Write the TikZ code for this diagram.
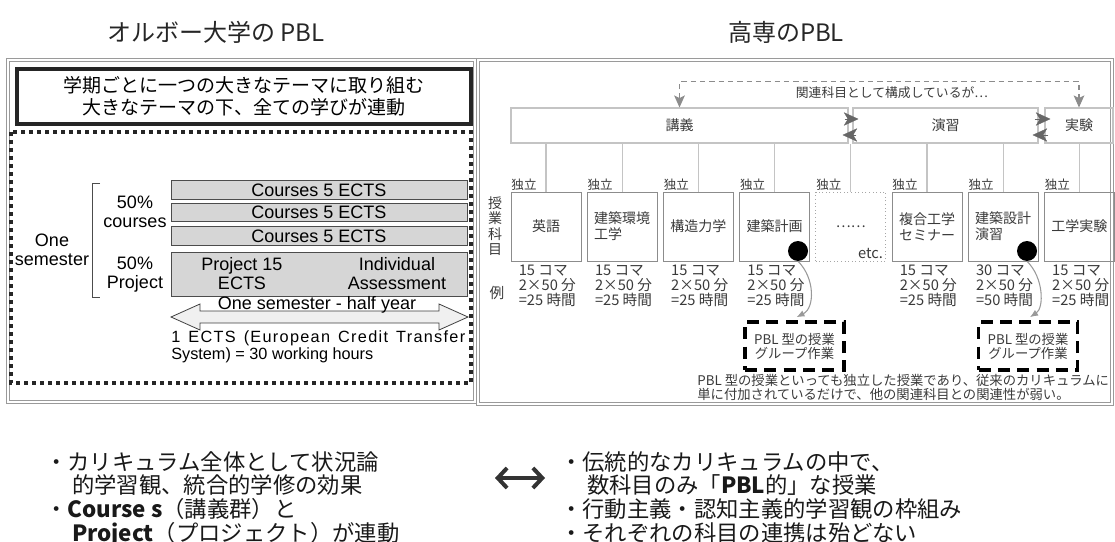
\documentclass[tikz,border=0pt]{standalone}
\usepackage{fontspec}
\setmainfont{Liberation Sans}
\newfontfamily\jp{Noto Sans CJK JP}
\usetikzlibrary{arrows.meta,calc}

\definecolor{framegray}{HTML}{9A9A9A}
\definecolor{bargray}{HTML}{D6D6D6}
\definecolor{ink}{HTML}{3A3A3A}
\definecolor{thinline}{HTML}{C4C4C4}

\begin{document}
\begin{tikzpicture}[x=0.75pt, y=-0.75pt, >=latex,
	panel/.style={draw=framegray, line width=0.6pt, double=white, double distance=1.2pt},
	ttl/.style={inner sep=0pt, text=black!85, font=\jp\fontsize{18}{20}\selectfont},
	tbox/.style={draw=black!85, line width=3pt, minimum width=341pt, minimum height=41pt,
		inner sep=0pt, align=center, font=\jp\fontsize{14.25}{16.5}\selectfont},
	dotframe/.style={draw=black!85, line width=3pt, dash pattern=on 3pt off 3pt},
	bar/.style={draw=black!70, fill=bargray, line width=0.6pt, minimum width=222pt,
		minimum height=13.9pt, inner sep=0pt, font=\fontsize{13.5}{14.25}\selectfont},
	lbl/.style={align=center, inner sep=0pt, font=\fontsize{13.5}{14.25}\selectfont},
	halfyear/.style={draw=black!75, fill=black!6, line width=0.6pt},
	topbox/.style={draw=thinline, line width=0.8pt, minimum height=26.25pt, inner sep=0pt,
		text=ink, font=\jp\fontsize{10.5}{12}\selectfont},
	subj/.style={draw=black!45, line width=0.7pt, minimum width=52.5pt, minimum height=51.75pt,
		inner sep=0pt, align=left, text=ink, font=\jp\fontsize{10.5}{12}\selectfont},
	small/.style={inner sep=0.5pt, text=ink, font=\jp\fontsize{9.4}{10}\selectfont},
	colt/.style={align=left, inner sep=0pt, text=ink, font=\jp\fontsize{11}{11.25}\selectfont},
	stem/.style={draw=thinline, line width=0.8pt},
	dashlink/.style={draw=black!45, line width=0.8pt, dash pattern=on 4pt off 3pt,
		>={Stealth[length=9pt, width=8pt, inset=2pt]}},
	pairtip/.style={draw=black!60, line width=0.2pt, -{Stealth[length=11pt, width=10pt, inset=3pt]}},
	blob/.style={circle, fill=black, minimum size=15pt, inner sep=0pt},
	pblbox/.style={draw=black, line width=2.8pt, dash pattern=on 9pt off 5.5pt, minimum width=74.25pt,
		minimum height=36pt, inner sep=0pt, align=center, text=ink, font=\jp\fontsize{10}{10.5}\selectfont},
	curvelink/.style={draw=black!40, line width=0.8pt, -{Latex[length=6pt, width=5pt]}},
	btm/.style={align=left, inner sep=0pt, text=black!90, font=\jp\fontsize{16.75}{17.8}\selectfont},
	linkarrow/.style={draw=black!80, line width=3pt,
		{Straight Barb[length=7pt, width=15pt]}-{Straight Barb[length=7pt, width=15pt]}}]

	\useasboundingbox (0,0) rectangle (1115,542);

	\node[ttl] (ta) at (216,32) {オルボー大学の PBL};
	\node[ttl] (tb) at (786,32) {高専のPBL};

	\draw[panel] (8,60) rectangle (475,402);
	\draw[panel] (478,60) rectangle (1112,404);

	% Aalborg
	\node[tbox] (theme) at (244,96.5) {学期ごとに一つの大きなテーマに取り組む\\大きなテーマの下、全ての学びが連動};
	\draw[dotframe] (11,132) rectangle (471,383);

	\node[bar] (c1) at (319,190) {Courses 5 ECTS};
	\node[bar] (c2) at (319,212.5) {Courses 5 ECTS};
	\node[bar] (c3) at (319,236) {Courses 5 ECTS};
	\node[bar, minimum height=33pt] (proj) at (319,274) {};
	\node[lbl] (p15) at (242,274) {Project 15\\ECTS};
	\node[lbl] (ia) at (397,274) {Individual\\Assessment};

	\node[lbl] (sem) at (52,250) {One\\semester};
	\node[lbl] (pc) at (135,212) {50\%\\courses};
	\node[lbl] (pp) at (135,275) {50\%\\Project};
	\draw[black!70, line width=0.6pt] (100,183) -| (92,297) -- (100,297);

	\draw[halfyear] (171,317) -- (200,304) -- (200,311) -- (439,311) -- (439,304) -- (468,317)
		-- (439,330) -- (439,323) -- (200,323) -- (200,330) -- cycle;
	\node[lbl] (hy) at (317,305) {One semester - half year};
	\node[lbl, align=left, anchor=north west, font=\fontsize{12.2}{12.8}\selectfont] (ects) at (171,330)
		{\makebox[220.5pt][s]{\addfontfeature{LetterSpace=8}1 ECTS (European Credit Transfer}\\System) = 30 working hours};

	% Kosen
	\node[topbox, minimum width=252.75pt] (lec) at (679.5,125.5) {講義};
	\node[topbox, minimum width=138.75pt] (ex) at (945.5,125.5) {演習};
	\node[topbox, minimum width=51pt] (lab) at (1079,125.5) {実験};

	\draw[dashlink, <->] (lec.north) -- ++(0,-26) -| (lab.north);
	\node[small, anchor=west, font=\jp\fontsize{9.6}{10}\selectfont] (rel) at (795,93) {関連科目として構成しているが…};

	\draw[pairtip] ($(lec.east)+(-4,-6.5)$) -- ($(ex.west)+(6,-6.5)$);
	\draw[pairtip] ($(ex.west)+(4,9.5)$) -- ($(lec.east)+(-6,9.5)$);
	\draw[pairtip] ($(ex.east)+(-4,-6.5)$) -- ($(lab.west)+(6,-6.5)$);
	\draw[pairtip] ($(lab.west)+(4,9.5)$) -- ($(ex.east)+(-6,9.5)$);

	\foreach \i/\t in {1/英語, 2/{建築環境\\工学}, 3/構造力学, 4/建築計画,
		6/{複合工学\\セミナー}, 7/{建築設計\\演習}, 8/工学実験}
		\node[subj] (s\i) at ({546+(\i-1)*76.2},226.5) {\t};
	\node[subj, draw=black!35, dotted] (s5) at (850.8,226.5) {……};
	\node[colt, anchor=south east] (etc) at ($(s5.south east)+(-3,-3)$) {etc.};

	\foreach \i in {1,...,8} {
		\node[small, anchor=south west] (ind\i) at (s\i.north west) {独立};
		\draw[stem] (s\i.north) -- (s\i.north |- lec.south);
	}

	\foreach \i/\k/\h in {1/15/25, 2/15/25, 3/15/25, 4/15/25, 6/15/25, 7/30/50, 8/15/25}
		\node[colt, anchor=north west] (h\i) at ($(s\i.south west)+(8,3)$) {\k\ コマ\\2×50 分\\=\h\ 時間};

	\node[colt, align=center, font=\jp\fontsize{10.5}{11.6}\selectfont] (vt) at (495,226) {授\\業\\科\\目};
	\node[colt] (ex1) at (497,293) {例};

	\node[blob] (d1) at (798,251) {};
	\node[blob] (d2) at (1027,251) {};
	\node[pblbox] (p1) at (794.5,346) {PBL 型の授業\\グループ作業};
	\node[pblbox] (p2) at (1028,346) {PBL 型の授業\\グループ作業};
	\draw[curvelink] (d1.south) .. controls (815,278) and (815,308) .. ($(p1.north)+(2,-3)$);
	\draw[curvelink] (d2.south) .. controls (1044,278) and (1044,308) .. ($(p2.north)+(2,-3)$);

	\node[small, align=left, anchor=north east, font=\jp\fontsize{10}{10.5}\selectfont] (note) at (1110,373)
		{PBL 型の授業といっても独立した授業であり、従来のカリキュラムに\\単に付加されているだけで、他の関連科目との関連性が弱い。};

	% comparison
	\node[btm, anchor=north west] (lt) at (45,451)
		{・カリキュラム全体として状況論\\\hspace*{1.2em}的学習観、統合的学修の効果\\
		・{\bfseries Course s}（講義群）と\\\hspace*{1.2em}{\bfseries Project}（プロジェクト）が連動};
	\node[btm, anchor=north west] (rt) at (560,451)
		{・伝統的なカリキュラムの中で、\\\hspace*{1.2em}数科目のみ「{\bfseries PBL}的」な授業\\
		・行動主義・認知主義的学習観の枠組み\\・それぞれの科目の連携は殆どない};
	\coordinate (ga) at (495,478);
	\coordinate (gb) at (545,478);
	\draw[linkarrow] (ga) -- (gb);
\end{tikzpicture}
\end{document}
